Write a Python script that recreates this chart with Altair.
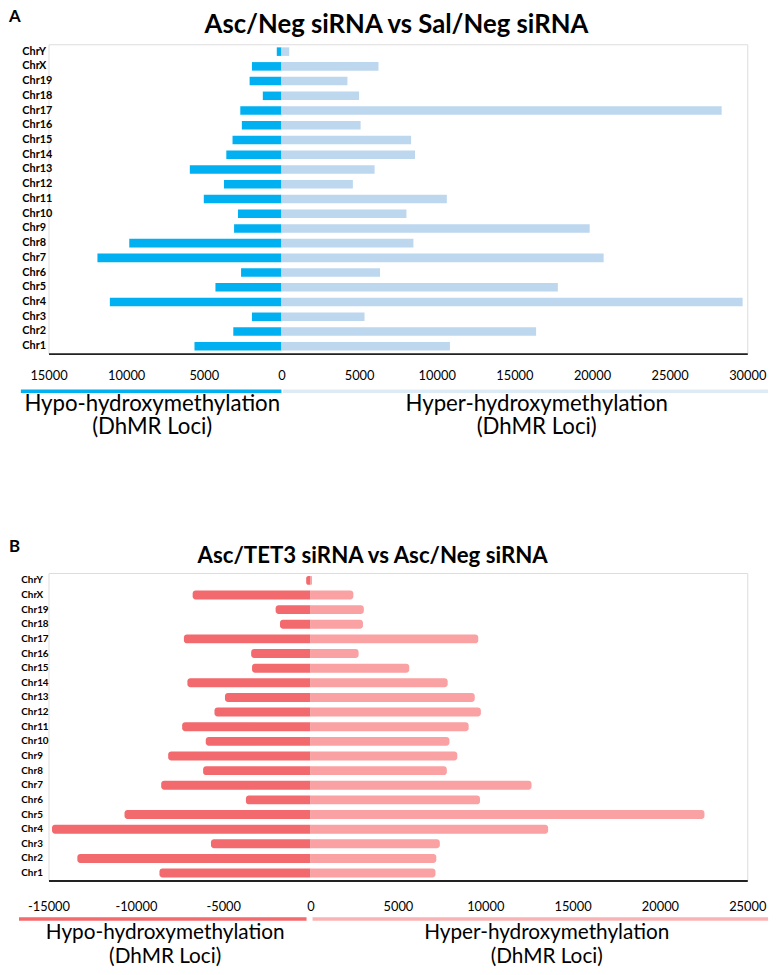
import altair as alt
import pandas as pd

# ---------------- data ----------------
chroms = ["Chr1", "Chr2", "Chr3", "Chr4", "Chr5", "Chr6", "Chr7", "Chr8", "Chr9", "Chr10",
          "Chr11", "Chr12", "Chr13", "Chr14", "Chr15", "Chr16", "Chr17", "Chr18", "Chr19",
          "ChrX", "ChrY"]

# Panel A: Asc/Neg siRNA vs Sal/Neg siRNA (DhMR loci counts)
a_hypo = [5600, 3100, 1900, 11050, 4250, 2600, 11850, 9800, 3050, 2800,
          5000, 3700, 5900, 3550, 3150, 2550, 2650, 1200, 2050, 1900, 300]
a_hyper = [10850, 16400, 5350, 29700, 17800, 6350, 20750, 8500, 19850, 8050,
           10650, 4600, 6000, 8600, 8350, 5100, 28350, 5000, 4250, 6250, 500]

# Panel B: Asc/TET3 siRNA vs Asc/Neg siRNA
b_hypo = [8650, 13350, 5700, 14800, 10650, 3700, 8550, 6150, 8150, 6000,
          7350, 5500, 4900, 7050, 3350, 3400, 7250, 1750, 2000, 6750, 250]
b_hyper = [7150, 7200, 7400, 13600, 22550, 9700, 12650, 7800, 8400, 7950,
           9050, 9750, 9400, 7850, 5650, 2750, 9600, 3000, 3050, 2450, 80]

a_ticks = [-15000, -10000, -5000, 0, 5000, 10000, 15000, 20000, 25000, 30000]
b_ticks = [-15000, -10000, -5000, 0, 5000, 10000, 15000, 20000, 25000]

a_title = "Asc/Neg siRNA vs Sal/Neg siRNA"
b_title = "Asc/TET3 siRNA vs Asc/Neg siRNA"
line1_labels = ["Hypo-hydroxymethylation", "Hyper-hydroxymethylation"]
line2_labels = ["(DhMR Loci)", "(DhMR Loci)"]

FONT = "Lato"
W = 707
order = chroms[::-1]


def panel(letter, title, hypo, hyper, domain, ticks, label_expr, H, bar_colors,
          line_colors, spans, text_x, title_x, title_y, title_size, letter_y,
          ylab_size, ylab_pad, pad_inner, corner, tick_pad, line_y, text_y1,
          text_y2, text_size):
    rows = []
    for c, lo, hi in zip(chroms, hypo, hyper):
        rows.append({"chr": c, "start": -lo, "end": 0, "side": "hypo"})
        rows.append({"chr": c, "start": 0, "end": hi, "side": "hyper"})
    df = pd.DataFrame(rows)

    xenc = alt.X(
        "start:Q",
        scale=alt.Scale(domain=domain, nice=False, zero=False),
        axis=alt.Axis(values=ticks, labelExpr=label_expr, title=None, grid=False,
                      ticks=False, domainColor="#222222", domainWidth=2,
                      labelFont=FONT, labelFontSize=13, labelColor="#000000",
                      labelPadding=tick_pad, labelFlush=False, labelOverlap=False),
    )
    yenc = alt.Y(
        "chr:N", sort=order,
        scale=alt.Scale(paddingInner=pad_inner, paddingOuter=pad_inner / 2),
        axis=alt.Axis(title=None, ticks=False, domain=False, labelAlign="left",
                      labelPadding=ylab_pad, labelFont=FONT, labelFontWeight="bold",
                      labelFontSize=ylab_size, labelColor="#000000"),
    )

    base = alt.Chart(df)
    left = base.transform_filter(alt.datum.side == "hypo").mark_bar(
        color=bar_colors[0], cornerRadiusTopLeft=corner, cornerRadiusBottomLeft=corner
    ).encode(x=xenc, x2="end:Q", y=yenc)
    right = base.transform_filter(alt.datum.side == "hyper").mark_bar(
        color=bar_colors[1], cornerRadiusTopRight=corner, cornerRadiusBottomRight=corner
    ).encode(x=xenc, x2="end:Q", y=yenc)

    lines_df = pd.DataFrame({"start": [spans[0][0], spans[1][0]],
                             "end": [spans[0][1], spans[1][1]],
                             "c": line_colors})
    lines = alt.Chart(lines_df).mark_rule(strokeWidth=3.5).encode(
        x=xenc, x2="end:Q", y=alt.value(H + line_y),
        color=alt.Color("c:N", scale=None))

    t1_df = pd.DataFrame({"start": text_x, "t": line1_labels})
    t2_df = pd.DataFrame({"start": text_x, "t": line2_labels})
    tprops = dict(font=FONT, fontSize=text_size, baseline="middle", align="center",
                  color="#000000")
    text1 = alt.Chart(t1_df).mark_text(**tprops).encode(
        x=xenc, y=alt.value(H + text_y1), text="t:N")
    text2 = alt.Chart(t2_df).mark_text(**tprops).encode(
        x=xenc, y=alt.value(H + text_y2), text="t:N")

    title_df = pd.DataFrame({"t": [title]})
    ttl = alt.Chart(title_df).mark_text(
        font=FONT, fontSize=title_size, fontWeight="bold", align="center",
        baseline="middle", color="#000000"
    ).encode(x=alt.value(title_x), y=alt.value(title_y), text="t:N")

    letter_df = pd.DataFrame({"t": [letter]})
    let = alt.Chart(letter_df).mark_text(
        font=FONT, fontSize=17, fontWeight="bold", align="left",
        baseline="middle", color="#000000"
    ).encode(x=alt.value(-40), y=alt.value(letter_y), text="t:N")

    return alt.layer(left, right, lines, text1, text2, ttl, let).properties(
        width=W, height=H)


panel_a = panel(
    "A", a_title, a_hypo, a_hyper, [-15000, 30000], a_ticks,
    "'' + abs(datum.value)", 313, ["#00B0F0", "#BDD7EE"], ["#00B0F0", "#DDEBF7"],
    [(-16780, 0), (100, 31330)], [-8320, 16440], 352, -19, 26, -28,
    11, 27, 0.42, 0, 16, 38, 51, 74, 22.5,
)
panel_b = panel(
    "B", b_title, b_hypo, b_hyper, [-15000, 25000], b_ticks,
    "datum.value < 0 ? '-' + abs(datum.value) : '' + datum.value", 311,
    ["#F26A6D", "#F9A1A3"], ["#F26A6D", "#F9B3B4"],
    [(-16690, -230), (115, 26190)], [-8320, 13520], 328, -17, 22.5, -26,
    10, 28, 0.39, 3, 20, 39, 53.5, 78, 21,
)

chart = alt.vconcat(panel_a, panel_b, spacing=222, bounds="flush").properties(
    padding={"left": 0, "top": -7, "right": 0, "bottom": 0}
).configure_view(stroke=None).configure(background="#ffffff")

chart.save("out.html", embed_options={"renderer": "svg", "actions": False})
